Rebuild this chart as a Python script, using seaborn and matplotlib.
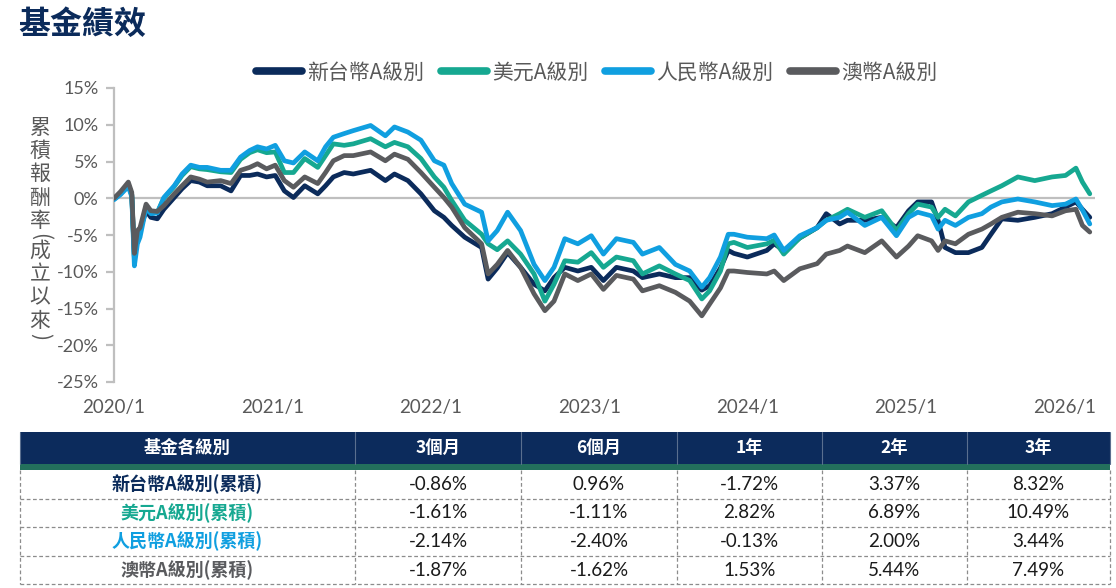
import matplotlib
matplotlib.use("Agg")
import matplotlib.pyplot as plt
import pandas as pd
import seaborn as sns
from matplotlib.patches import Rectangle

# ---------------- data ----------------
series_names = ["新台幣A級別", "美元A級別", "人民幣A級別", "澳幣A級別"]
series_colors = ["#0B2B5B", "#16A891", "#109FE0", "#5A5B5E"]

dates = [
    "2020-01-01", "2020-01-16", "2020-02-03", "2020-02-11", "2020-02-17", "2020-02-24",
    "2020-03-01", "2020-03-15", "2020-03-26", "2020-04-10", "2020-04-25", "2020-05-19",
    "2020-06-06", "2020-06-26", "2020-07-16", "2020-08-03", "2020-09-03", "2020-09-27",
    "2020-10-19", "2020-11-09", "2020-11-27", "2020-12-18", "2021-01-07", "2021-01-28",
    "2021-02-18", "2021-03-16", "2021-04-15", "2021-05-03", "2021-05-21", "2021-06-15",
    "2021-07-06", "2021-08-15", "2021-09-18", "2021-10-09", "2021-11-09", "2021-12-09",
    "2022-01-09", "2022-01-31", "2022-02-18", "2022-03-20", "2022-04-28", "2022-05-13",
    "2022-06-03", "2022-06-27", "2022-07-27", "2022-08-27", "2022-09-21", "2022-10-12",
    "2022-11-06", "2022-12-06", "2023-01-06", "2023-02-03", "2023-03-05", "2023-04-13",
    "2023-05-04", "2023-06-12", "2023-07-19", "2023-08-21", "2023-09-18", "2023-10-06",
    "2023-10-31", "2023-11-18", "2023-12-01", "2024-01-01", "2024-02-15", "2024-03-03",
    "2024-03-25", "2024-05-01", "2024-06-10", "2024-07-01", "2024-08-01", "2024-08-19",
    "2024-09-28", "2024-11-06", "2024-12-10", "2025-01-07", "2025-01-28", "2025-03-01",
    "2025-03-16", "2025-04-01", "2025-04-25", "2025-05-25", "2025-06-25", "2025-07-16",
    "2025-08-10", "2025-09-16", "2025-10-25", "2025-12-04", "2026-01-04", "2026-01-28",
    "2026-02-12", "2026-03-01",
]

twd = [
    -0.1, 0.6, 1.8, 0.5, -8.0, -5.0,
    -4.3, -1.7, -2.6, -2.8, -1.5, 0.1,
    1.3, 2.4, 2.2, 1.7, 1.7, 1.0,
    3.1, 3.1, 3.3, 2.9, 3.1, 1.0,
    0.1, 1.7, 0.6, 1.7, 2.9, 3.5,
    3.3, 3.8, 2.4, 3.3, 2.4, 0.6,
    -1.7, -2.6, -3.7, -5.3, -6.7, -11.0,
    -9.5, -7.4, -9.4, -11.7, -12.6, -10.8,
    -9.4, -9.9, -9.4, -11.2, -9.4, -9.9,
    -10.8, -10.3, -10.8, -10.8, -12.5, -11.9,
    -9.5, -7.1, -7.5, -8.0, -7.1, -6.2,
    -7.1, -5.4, -4.0, -2.1, -3.5, -3.0,
    -3.0, -2.6, -4.0, -1.7, -0.5, -0.5,
    -3.0, -6.7, -7.4, -7.4, -6.7, -4.9,
    -2.8, -3.0, -2.6, -2.1, -1.2, -0.5,
    -1.5, -2.6,
]

usd = [
    -0.1, 0.7, 1.9, 0.4, -8.3, -5.3,
    -4.5, -1.1, -1.9, -1.9, 0.0, 1.6,
    3.1, 4.3, 4.0, 3.9, 3.6, 3.5,
    5.3, 6.2, 6.6, 6.2, 6.3, 3.5,
    3.5, 5.4, 4.2, 5.8, 7.4, 7.2,
    7.4, 8.1, 7.0, 7.6, 7.0, 5.4,
    2.9, 1.5, -0.3, -3.0, -4.9, -6.2,
    -7.0, -5.8, -7.6, -10.3, -14.0, -11.7,
    -8.5, -8.7, -7.4, -9.4, -8.0, -8.5,
    -10.3, -9.2, -10.3, -11.2, -13.7, -12.6,
    -9.9, -6.2, -6.0, -6.7, -6.2, -5.7,
    -7.6, -5.4, -4.0, -3.0, -2.1, -1.5,
    -2.6, -1.7, -4.4, -2.1, -0.8, -1.2,
    -2.6, -1.5, -2.4, -0.5, 0.4, 1.0,
    1.7, 2.9, 2.4, 2.9, 3.1, 4.1,
    2.2, 0.6,
]

cny = [
    -0.2, 0.5, 1.6, 0.2, -9.2, -6.2,
    -5.3, -1.3, -2.1, -2.0, 0.1, 1.7,
    3.3, 4.5, 4.2, 4.2, 3.8, 3.8,
    5.6, 6.5, 7.0, 6.7, 7.2, 5.1,
    4.8, 6.3, 5.1, 7.0, 8.3, 8.8,
    9.2, 9.9, 8.5, 9.7, 9.0, 7.9,
    5.1, 4.5, 2.0, -0.8, -1.9, -5.8,
    -4.4, -1.9, -4.4, -9.0, -11.2, -9.4,
    -5.5, -6.2, -5.1, -7.6, -5.5, -6.0,
    -7.6, -6.7, -9.0, -9.9, -12.1, -10.8,
    -8.0, -4.9, -4.9, -5.3, -5.5, -5.0,
    -7.1, -5.1, -4.0, -3.0, -2.6, -1.9,
    -3.7, -2.6, -5.1, -2.6, -1.9, -2.4,
    -4.2, -3.0, -3.7, -2.6, -2.1, -1.2,
    -0.5, -0.1, -0.5, -1.0, -0.8, -0.1,
    -1.6, -3.5,
]

aud = [
    0.0, 0.9, 2.2, 0.8, -7.5, -4.4,
    -4.0, -0.8, -1.7, -1.8, -1.0, 0.6,
    1.7, 2.9, 2.6, 2.2, 2.4, 2.0,
    3.8, 4.2, 4.7, 4.0, 4.5, 2.4,
    1.5, 2.9, 2.0, 3.5, 5.1, 5.8,
    5.8, 6.3, 5.1, 6.0, 5.3, 3.5,
    1.5, 0.1, -1.2, -4.0, -6.2, -10.3,
    -9.0, -7.1, -9.4, -13.0, -15.3, -14.0,
    -10.3, -11.2, -10.3, -12.4, -10.5, -11.0,
    -12.6, -11.9, -12.8, -14.0, -16.0, -14.4,
    -12.2, -9.9, -9.9, -10.1, -10.3, -9.9,
    -11.2, -9.6, -8.9, -7.6, -7.1, -6.5,
    -7.4, -5.8, -8.0, -6.5, -5.1, -5.8,
    -7.1, -5.8, -6.2, -4.9, -4.2, -3.5,
    -2.6, -1.9, -2.1, -2.4, -1.7, -1.5,
    -3.7, -4.6,
]

y_ticks = [-25, -20, -15, -10, -5, 0, 5, 10, 15]
x_tick_dates = ["2020-01-01", "2021-01-01", "2022-01-01", "2023-01-01",
                "2024-01-01", "2025-01-01", "2026-01-01"]
x_tick_labels = ["2020/1", "2021/1", "2022/1", "2023/1", "2024/1", "2025/1", "2026/1"]

title_text = "基金績效"
ylabel_chars = ["累", "積", "報", "酬", "率", "(", "成", "立", "以", "來", ")"]

table_header = ["基金各級別", "3個月", "6個月", "1年", "2年", "3年"]
table_rows = ["新台幣A級別(累積)", "美元A級別(累積)", "人民幣A級別(累積)", "澳幣A級別(累積)"]
perf_3m = ["-0.86%", "-1.61%", "-2.14%", "-1.87%"]
perf_6m = ["0.96%", "-1.11%", "-2.40%", "-1.62%"]
perf_1y = ["-1.72%", "2.82%", "-0.13%", "1.53%"]
perf_2y = ["3.37%", "6.89%", "2.00%", "5.44%"]
perf_3y = ["8.32%", "10.49%", "3.44%", "7.49%"]

# ---------------- style ----------------
sns.set_theme(style="white")
plt.rcParams["font.family"] = ["Noto Sans CJK TC", "DejaVu Sans"]
GRAY_TXT = "#595959"
AXIS_GRAY = "#BFBFBF"
NAVY = "#0B2B5B"

W, H = 1116, 588
fig = plt.figure(figsize=(W / 100, H / 100), dpi=100)
fig.patch.set_facecolor("white")

# ---------------- line chart ----------------
left_px, right_px, top_px, bot_px = 114, 1095, 88, 382
ax = fig.add_axes([left_px / W, 1 - bot_px / H, (right_px - left_px) / W, (bot_px - top_px) / H])

df = pd.DataFrame({
    "date": pd.to_datetime(dates * 4),
    "value": twd + usd + cny + aud,
    "series": sum([[n] * len(dates) for n in series_names], []),
})
palette = dict(zip(series_names, series_colors))

ax.axhline(0, color=AXIS_GRAY, lw=1.6, zorder=0)
sns.lineplot(data=df, x="date", y="value", hue="series", hue_order=series_names,
             palette=palette, linewidth=3.4, ax=ax, zorder=3)

ax.set_ylim(-25, 15)
ax.set_xlim(pd.Timestamp("2020-01-01"), pd.Timestamp("2026-03-13"))
ax.set_yticks(y_ticks)
ax.set_yticklabels([f"{v}%" for v in y_ticks])
ax.set_xticks(pd.to_datetime(x_tick_dates))
ax.set_xticklabels(x_tick_labels)
ax.set_xlabel("")
ax.set_ylabel("")

for s in ["top", "right", "bottom"]:
    ax.spines[s].set_visible(False)
ax.spines["left"].set_color(AXIS_GRAY)
ax.spines["left"].set_linewidth(1.6)
ax.tick_params(axis="y", direction="out", length=6, width=1.6, color=AXIS_GRAY,
               labelcolor=GRAY_TXT, labelsize=13, pad=5, left=True)
ax.tick_params(axis="x", length=0, labelcolor=GRAY_TXT, labelsize=13.5, pad=12, bottom=True)
for lbl in ax.get_yticklabels() + ax.get_xticklabels():
    lbl.set_fontfamily(["Lato", "DejaVu Sans"])

sns.move_legend(ax, "center", bbox_to_anchor=(0.492, 1.052), ncol=4, frameon=False,
                title=None, fontsize=15, handlelength=2.2, handletextpad=0.25,
                columnspacing=0.8)
leg = ax.get_legend()
for line in leg.get_lines():
    line.set_linewidth(5.5)
    line.set_solid_capstyle("round")
for t in leg.get_texts():
    t.set_color(GRAY_TXT)

# ---------------- title & y label ----------------
fig.text(18 / W, 1 - 25 / H, title_text, fontsize=23, fontweight="bold", color=NAVY,
         ha="left", va="center")

y0, step = 128, 23.2
ypos = y0
for ch in ylabel_chars:
    if ch in "()":
        ypos -= 7
        fig.text(40 / W, 1 - ypos / H, ch, fontsize=15, color=GRAY_TXT, ha="center",
                 va="center", rotation=-90)
        ypos += 14
    else:
        fig.text(40 / W, 1 - ypos / H, ch, fontsize=15, color=GRAY_TXT, ha="center",
                 va="center")
        ypos += step

# ---------------- table ----------------
tax = fig.add_axes([0, 0, 1, 1], zorder=5)
tax.set_xlim(0, W)
tax.set_ylim(H, 0)
tax.axis("off")

col_edges = [20, 355, 521, 677, 822, 967, 1110]
head_top, head_bot = 432, 464
stripe_bot = 470
row_h = 28.6

tax.add_patch(Rectangle((col_edges[0], head_top), col_edges[-1] - col_edges[0],
                        head_bot - head_top, facecolor="#0C2B5C", edgecolor="none"))
tax.add_patch(Rectangle((col_edges[0], head_bot), col_edges[-1] - col_edges[0],
                        stripe_bot - head_bot, facecolor="#23705C", edgecolor="none"))
for i, h in enumerate(table_header):
    cx = (col_edges[i] + col_edges[i + 1]) / 2
    tax.text(cx, (head_top + head_bot) / 2, h, color="white", fontsize=12.5,
             fontweight="bold", ha="center", va="center",
             family=["Noto Sans CJK TC", "DejaVu Sans"])

row_colors = series_colors
cols = [perf_3m, perf_6m, perf_1y, perf_2y, perf_3y]
for r, name in enumerate(table_rows):
    top = stripe_bot + r * row_h
    cy = top + row_h / 2
    tax.text((col_edges[0] + col_edges[1]) / 2, cy, name, color=row_colors[r], fontsize=13,
             fontweight="bold", ha="center", va="center")
    for c, vals in enumerate(cols):
        cx = (col_edges[c + 1] + col_edges[c + 2]) / 2
        tax.text(cx, cy, vals[r], color="#1A1A1A", fontsize=13.5, ha="center", va="center",
                 family=["Lato", "DejaVu Sans"])
    tax.plot([col_edges[0], col_edges[-1]], [top + row_h, top + row_h], color="#8C8C8C",
             lw=0.9, ls=(0, (3, 2)))

table_bottom = stripe_bot + len(table_rows) * row_h
for x in col_edges:
    tax.plot([x, x], [stripe_bot, table_bottom], color="#8C8C8C", lw=0.9, ls=(0, (3, 2)))
    tax.plot([x, x], [head_top, head_bot], color="#5A6F8F", lw=0.8)

fig.savefig("out.png", dpi=100, facecolor="white")
